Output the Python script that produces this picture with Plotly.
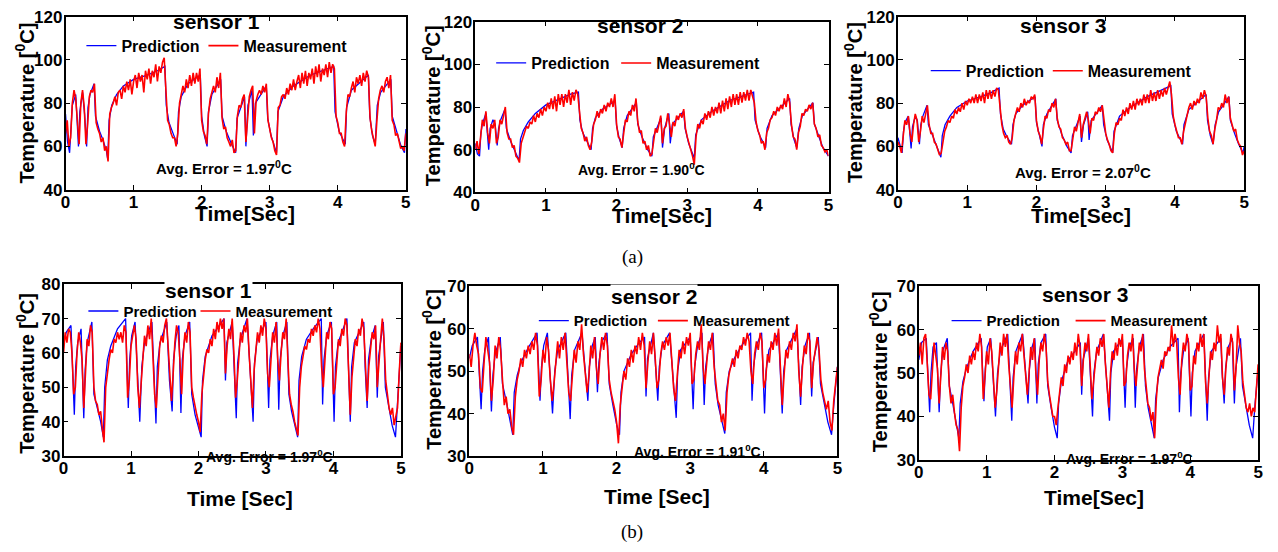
import plotly.graph_objects as go

# ---------------- data ----------------
# (a) row: prediction break-points (shared time stamps)
pred_t_a = [0, 0.03, 0.06, 0.08, 0.1, 0.15, 0.17, 0.19, 0.21, 0.25,
            0.28, 0.31, 0.33, 0.36, 0.42, 0.44, 0.5, 0.55, 0.6, 0.62,
            0.64, 0.68, 0.75, 0.85, 1.0, 1.2, 1.35, 1.46, 1.48, 1.52,
            1.58, 1.64, 1.66, 1.7, 1.8, 1.98, 2.0, 2.04, 2.08, 2.1,
            2.15, 2.28, 2.3, 2.36, 2.44, 2.5, 2.52, 2.63, 2.65, 2.68,
            2.74, 2.76, 2.79, 2.95, 2.97, 3.02, 3.1, 3.12, 3.2, 3.35,
            3.6, 3.94, 3.96, 4.02, 4.11, 4.13, 4.2, 4.45, 4.47, 4.51,
            4.55, 4.58, 4.63, 4.78, 4.8, 4.86, 4.92, 4.98, 5.0]
pred_a1 = [75, 62, 57, 72, 79, 84, 70, 60, 76, 85, 75, 60, 78, 84, 89, 74, 67, 63, 58, 54,
           72, 79, 84, 88, 91, 93, 95, 97, 79, 71, 66, 61, 76, 83, 89, 93, 74, 65, 60, 76,
           84, 91, 74, 67, 61, 57, 73, 83, 60, 79, 86, 65, 80, 88, 73, 65, 57, 76, 83, 88,
           93, 97, 76, 67, 61, 78, 86, 93, 74, 65, 61, 79, 85, 91, 74, 67, 61, 57, 68]
pred_a2 = [63, 58, 57, 68, 72, 77, 68, 60, 70, 74, 72, 62, 70, 74, 79, 70, 64, 60, 56, 55,
           65, 69, 73, 77, 81, 84, 86, 87, 74, 68, 64, 60, 70, 75, 79, 83, 71, 65, 61, 70,
           76, 82, 72, 66, 60, 57, 66, 75, 61, 70, 77, 63, 72, 78, 70, 63, 56, 67, 74, 78,
           83, 87, 74, 67, 61, 70, 76, 84, 72, 65, 61, 70, 76, 82, 72, 66, 61, 58, 57]
pred_a3 = [64, 60, 57, 67, 71, 74, 66, 59, 69, 74, 72, 61, 70, 74, 79, 70, 65, 61, 57, 55,
           65, 70, 74, 78, 81, 83, 85, 87, 75, 68, 64, 61, 70, 75, 79, 83, 71, 65, 60, 70,
           75, 82, 72, 66, 60, 57, 65, 74, 62, 70, 76, 63, 72, 79, 70, 63, 57, 67, 74, 78,
           83, 88, 75, 67, 61, 70, 77, 84, 72, 65, 61, 70, 76, 83, 72, 66, 61, 57, 60]

# (a) row: measurements, one sample every 0.025 s
meas_a1 = [66, 72, 60, 64, 80, 86, 82, 72, 61, 80, 86, 78, 61, 70, 83, 86, 85, 89, 71, 68,
           66, 62, 64, 58, 60, 53, 75, 78, 80, 83, 79, 85, 86, 82, 88, 85, 90, 86, 91, 84,
           90, 93, 87, 94, 90, 93, 85, 95, 91, 96, 89, 95, 92, 98, 90, 97, 94, 99, 101, 86,
           72, 70, 66, 64, 64, 60, 66, 80, 84, 88, 85, 91, 87, 93, 88, 94, 89, 94, 90, 96,
           72, 67, 65, 61, 75, 82, 85, 88, 85, 92, 87, 94, 73, 68, 69, 64, 62, 60, 63, 57,
           58, 74, 79, 78, 82, 84, 62, 75, 83, 86, 88, 66, 81, 84, 86, 84, 88, 85, 89, 72,
           68, 64, 62, 58, 56, 78, 79, 83, 84, 82, 87, 84, 89, 86, 91, 86, 90, 93, 87, 94,
           89, 95, 88, 94, 91, 96, 89, 97, 92, 98, 90, 96, 93, 98, 92, 99, 94, 98, 96, 74,
           71, 66, 66, 62, 60, 76, 84, 83, 87, 90, 85, 92, 89, 93, 88, 94, 90, 95, 92, 73,
           67, 63, 60, 72, 82, 86, 88, 85, 90, 92, 87, 93, 72, 70, 65, 66, 62, 59, 60, 58,
           66]
meas_a2 = [60, 64, 58, 66, 74, 71, 78, 68, 63, 72, 70, 74, 63, 66, 74, 72, 76, 80, 68, 65,
           65, 61, 62, 57, 56, 54, 63, 66, 68, 71, 70, 73, 72, 76, 73, 77, 75, 79, 76, 80,
           78, 82, 79, 84, 79, 85, 78, 86, 81, 86, 80, 86, 82, 88, 81, 87, 83, 88, 86, 76,
           70, 68, 64, 66, 62, 60, 64, 72, 74, 78, 75, 79, 77, 81, 78, 82, 80, 84, 80, 86,
           72, 66, 65, 61, 68, 74, 73, 78, 76, 81, 78, 84, 73, 68, 69, 63, 64, 60, 62, 57,
           58, 65, 70, 68, 73, 76, 63, 70, 71, 77, 72, 66, 73, 71, 76, 74, 77, 75, 79, 70,
           66, 63, 61, 57, 53, 66, 72, 70, 74, 72, 77, 74, 78, 75, 80, 76, 80, 77, 82, 77,
           83, 78, 84, 79, 85, 80, 86, 81, 86, 81, 87, 82, 87, 83, 88, 83, 88, 85, 82, 73,
           69, 67, 63, 64, 60, 68, 70, 74, 75, 78, 76, 80, 78, 81, 79, 84, 80, 86, 82, 72,
           66, 65, 60, 68, 71, 77, 76, 79, 78, 81, 79, 82, 72, 70, 66, 67, 62, 61, 59, 60,
           57]
meas_a3 = [62, 60, 57, 64, 72, 70, 74, 66, 62, 70, 75, 72, 62, 67, 74, 71, 76, 79, 70, 66,
           66, 62, 61, 58, 56, 57, 63, 67, 69, 72, 71, 74, 73, 77, 75, 78, 76, 80, 77, 81,
           79, 82, 80, 83, 80, 84, 80, 84, 81, 85, 80, 86, 82, 86, 82, 86, 83, 87, 86, 78,
           70, 66, 64, 65, 62, 61, 64, 72, 75, 78, 76, 80, 78, 82, 79, 81, 80, 83, 82, 84,
           72, 67, 65, 61, 68, 74, 73, 77, 76, 80, 78, 82, 73, 69, 68, 64, 63, 61, 62, 58,
           58, 64, 69, 67, 72, 75, 64, 70, 73, 76, 72, 66, 73, 72, 76, 75, 78, 76, 79, 71,
           66, 63, 61, 58, 57, 66, 71, 70, 73, 72, 77, 74, 78, 75, 80, 77, 81, 77, 82, 79,
           82, 79, 84, 80, 84, 80, 86, 81, 85, 81, 86, 82, 86, 83, 87, 84, 87, 90, 84, 74,
           70, 67, 64, 64, 61, 67, 71, 75, 78, 80, 77, 81, 79, 82, 80, 85, 82, 86, 83, 73,
           67, 65, 61, 68, 72, 78, 77, 80, 78, 84, 80, 83, 73, 70, 67, 68, 63, 61, 60, 56,
           58]

# (b) row: prediction break-points (shared time stamps)
pred_t_b = [0, 0.04, 0.11, 0.13, 0.16, 0.18, 0.21, 0.26, 0.28, 0.30,
            0.32, 0.35, 0.42, 0.45, 0.50, 0.55, 0.59, 0.61, 0.65, 0.70,
            0.80, 0.92, 0.94, 0.96, 0.98, 1.01, 1.06, 1.09, 1.13, 1.16,
            1.20, 1.31, 1.34, 1.37, 1.39, 1.43, 1.53, 1.57, 1.61, 1.63,
            1.67, 1.71, 1.725, 1.74, 1.76, 1.80, 1.87, 1.90, 1.95, 2.00,
            2.04, 2.06, 2.10, 2.20, 2.30, 2.38, 2.40, 2.42, 2.50, 2.53,
            2.56, 2.58, 2.62, 2.72, 2.76, 2.81, 2.83, 2.87, 3.00, 3.02,
            3.04, 3.06, 3.10, 3.16, 3.175, 3.19, 3.21, 3.25, 3.31, 3.34,
            3.38, 3.43, 3.47, 3.49, 3.53, 3.60, 3.70, 3.82, 3.83, 3.84,
            3.86, 3.90, 3.97, 3.99, 4.01, 4.03, 4.07, 4.20, 4.22, 4.25,
            4.27, 4.31, 4.45, 4.47, 4.50, 4.52, 4.56, 4.62, 4.635, 4.65,
            4.67, 4.74, 4.77, 4.82, 4.87, 4.92, 4.95, 5.00]
pred_b1 = [63, 66, 68, 55, 42, 56, 63, 67, 52, 41, 55, 63, 69, 48, 44, 40, 35.5, 50, 58, 62,
           67, 70, 56, 44, 58, 65, 69, 55, 40, 56, 63, 69, 52, 39.5, 56, 63, 69, 52, 43, 58,
           65, 68, 55, 42.5, 58, 65, 69, 48, 42, 38, 35.5, 52, 59, 65, 68, 70, 52, 63, 69, 55,
           41, 57, 64, 70, 55, 40, 57, 64, 69, 55, 44, 58, 65, 69, 56, 43.5, 58, 65, 69, 48,
           43, 38.5, 35.5, 52, 59, 64, 67, 70, 57, 45, 58, 65, 69, 55, 40, 56, 63, 70, 55, 40,
           56, 63, 69, 56, 44, 58, 64, 68, 58, 47, 59, 69, 50, 44, 39, 35.5, 45, 62]
pred_b2 = [53, 56, 58, 50, 41, 50, 55, 58, 49, 40.5, 49, 54, 58, 47, 43, 39, 35, 45, 49, 52,
           55.5, 59, 50, 43, 51, 56, 59, 50, 40, 50, 55, 59, 48, 38.7, 49, 55, 59, 50, 43, 51,
           56, 58, 51, 45, 52, 57, 59, 47, 42, 37.5, 35, 45, 50, 54, 56.5, 58, 44, 53, 59, 50,
           43, 51, 56, 59, 49, 39, 50, 55, 58, 49, 41, 51, 56, 59, 50, 42, 51, 56, 59, 47,
           42, 38, 35.3, 45, 50, 53, 56, 59, 51, 43, 51, 56, 59, 50, 40, 50, 55, 59, 50, 40,
           50, 55, 60, 51, 42, 51, 56, 59, 52, 44, 52, 58, 47, 42, 38, 35, 42, 51]
pred_b3 = [53, 57, 58, 50, 41, 50, 56, 57, 49, 41, 49, 55, 58, 47, 43, 39, 35, 43, 48, 51,
           55, 58, 50, 43.5, 51, 56, 58, 50, 40, 50, 55, 59, 48, 39, 49, 55, 59, 50, 43, 51,
           56, 58, 50, 43, 52, 57, 59, 47, 42, 37.5, 35, 43, 48, 53, 55, 57, 45, 53, 58, 49,
           40, 50, 55, 59, 49, 39, 50, 55, 58, 49, 42, 51, 56, 58, 50, 42, 51, 56, 59, 47,
           42, 38, 35, 44, 49, 53, 56, 58, 50, 41, 50, 55, 58, 49, 40, 50, 55, 59, 49, 39,
           49, 55, 58, 50, 43, 51, 56, 58, 50, 43, 51, 58, 47, 42, 38, 35, 42, 51]

# (b) row: measurements, one sample every 0.025 s
meas_b1 = [60, 66, 63, 67, 66, 60, 48, 50, 60, 66, 63, 58, 44, 55, 64, 62, 68, 66, 50, 46,
           45, 42, 43, 38, 34, 50, 55, 58, 61, 60, 64, 63, 66, 64, 66, 63, 68, 66, 47, 52,
           62, 65, 68, 64, 50, 44, 50, 58, 65, 62, 68, 64, 70, 58, 48, 44, 55, 62, 65, 63,
           68, 70, 62, 52, 46, 54, 63, 68, 66, 58, 48, 60, 66, 63, 69, 66, 50, 47, 44, 42,
           40, 37, 48, 54, 58, 61, 60, 64, 62, 67, 64, 69, 66, 70, 67, 70, 54, 62, 67, 64,
           70, 60, 47, 52, 60, 66, 63, 68, 66, 70, 60, 52, 44, 55, 62, 66, 63, 68, 65, 70,
           67, 54, 50, 60, 66, 63, 69, 58, 52, 60, 66, 64, 70, 58, 48, 45, 43, 40, 38, 36,
           50, 56, 59, 62, 61, 64, 63, 67, 65, 68, 66, 70, 67, 56, 50, 60, 66, 64, 69, 67,
           48, 50, 58, 64, 62, 67, 65, 70, 68, 54, 42, 53, 60, 64, 62, 67, 65, 70, 67, 55,
           46, 56, 62, 66, 64, 68, 50, 58, 64, 70, 64, 52, 48, 44, 42, 44, 39, 42, 44, 54,
           63]
meas_b2 = [54, 51, 56, 59, 56, 54, 46, 45, 52, 58, 55, 52, 43, 48, 56, 53, 58, 55, 48, 42,
           44, 40, 41, 37, 35, 44, 48, 50, 53, 51, 55, 53, 56, 54, 57, 55, 59, 56, 44, 48,
           55, 52, 58, 55, 48, 43, 47, 52, 57, 53, 58, 55, 59, 52, 45, 43, 49, 55, 52, 57,
           55, 61, 54, 50, 45, 49, 56, 53, 58, 51, 47, 54, 58, 55, 59, 56, 48, 45, 43, 41,
           38, 33, 42, 47, 50, 48, 53, 51, 55, 52, 56, 54, 58, 55, 59, 56, 46, 52, 57, 54,
           59, 53, 46, 48, 54, 57, 55, 58, 56, 59, 52, 46, 43, 50, 55, 53, 57, 54, 58, 56,
           59, 47, 48, 54, 57, 55, 61, 51, 47, 52, 57, 55, 59, 51, 46, 43, 42, 38, 40, 36,
           45, 49, 51, 53, 51, 55, 53, 56, 55, 58, 56, 59, 57, 50, 47, 54, 57, 55, 59, 57,
           46, 48, 54, 52, 57, 55, 59, 56, 60, 49, 42, 49, 55, 53, 57, 55, 59, 57, 61, 50,
           44, 51, 56, 54, 59, 57, 46, 52, 55, 58, 55, 48, 45, 43, 41, 43, 38, 36, 43, 47,
           51]
meas_b3 = [54, 57, 52, 58, 59, 53, 45, 44, 52, 57, 54, 51, 43, 49, 56, 53, 57, 55, 47, 43,
           45, 41, 38, 37, 32, 42, 47, 49, 52, 50, 54, 52, 55, 53, 57, 55, 59, 56, 44, 49,
           55, 52, 58, 55, 48, 42, 46, 52, 57, 54, 59, 56, 59, 52, 46, 42, 49, 55, 52, 57,
           55, 59, 54, 49, 45, 50, 56, 53, 58, 50, 45, 53, 57, 55, 59, 56, 48, 45, 42, 40,
           40, 38, 42, 46, 49, 47, 52, 50, 54, 52, 55, 53, 57, 54, 59, 56, 47, 53, 57, 55,
           59, 52, 44, 48, 53, 56, 54, 58, 56, 59, 52, 46, 42, 50, 55, 53, 57, 54, 58, 56,
           59, 47, 48, 54, 57, 55, 59, 51, 47, 52, 57, 55, 59, 51, 46, 43, 42, 39, 41, 35,
           44, 49, 51, 53, 51, 55, 54, 56, 55, 61, 56, 59, 57, 49, 45, 53, 57, 55, 59, 57,
           46, 47, 54, 52, 57, 55, 59, 56, 59, 48, 43, 48, 55, 53, 57, 55, 61, 57, 59, 49,
           45, 51, 56, 54, 59, 57, 46, 51, 61, 57, 55, 48, 45, 42, 41, 43, 40, 42, 41, 48,
           52]

sample_step = 0.025
x_ticks = [0, 1, 2, 3, 4, 5]
sensor_names = ["sensor 1", "sensor 2", "sensor 3", "sensor 1", "sensor 2", "sensor 3"]
avg_errors = ["1.97", "1.90", "2.07", "1.97", "1.91", "1.97"]
x_titles = ["Time[Sec]", "Time[Sec]", "Time[Sec]", "Time [Sec]", "Time [Sec]", "Time[Sec]"]

for arr in (meas_a1, meas_a2, meas_a3, meas_b1, meas_b2, meas_b3):
    assert len(arr) == 201, len(arr)
for arr in (pred_a1, pred_a2, pred_a3):
    assert len(arr) == len(pred_t_a)
for arr in (pred_b1, pred_b2, pred_b3):
    assert len(arr) == len(pred_t_b)

# ---------------- layout helpers ----------------
W, H = 1278, 552
FONT = "Liberation Sans"


def fx(p):
    return p / W


def fy(p):
    return 1 - p / H


# geometry of each panel (pixels)
panels = [
    dict(pt=pred_t_a, pv=pred_a1, mv=meas_a1, box=(61, 404, 8, 187), yr=(40, 120), dy=20,
         leg_p=(77, 38), leg_m=(200, 38), title=(213, 13, False), avg=(221, 164, 15),
         ytit=(20, 97), xtit=(242, 212), lfs=16),
    dict(pt=pred_t_a, pv=pred_a2, mv=meas_a2, box=(474, 830, 13, 190), yr=(40, 120), dy=20,
         leg_p=(490, 56), leg_m=(616, 56), title=(640, 17, False), avg=(642, 166, 14),
         ytit=(430, 100), xtit=(662, 214), lfs=16),
    dict(pt=pred_t_a, pv=pred_a3, mv=meas_a3, box=(900, 1249, 8, 187), yr=(40, 120), dy=20,
         leg_p=(928, 64), leg_m=(1051, 64), title=(1066, 17, False), avg=(1087, 168, 15),
         ytit=(855, 97), xtit=(1084, 214), lfs=16),
    dict(pt=pred_t_b, pv=pred_b1, mv=meas_b1, box=(59, 399, 285, 463), yr=(30, 80), dy=10,
         leg_p=(79, 313), leg_m=(192, 313), title=(205, 292, True), avg=(267, 463, 14),
         ytit=(20, 377), xtit=(237, 507), lfs=15),
    dict(pt=pred_t_b, pv=pred_b2, mv=meas_b2, box=(468, 839, 287, 463), yr=(30, 70), dy=10,
         leg_p=(533, 323), leg_m=(653, 323), title=(654, 298, True), avg=(698, 458, 14),
         ytit=(430, 373), xtit=(657, 505), lfs=15),
    dict(pt=pred_t_b, pv=pred_b3, mv=meas_b3, box=(921, 1263, 287, 467), yr=(30, 70), dy=10,
         leg_p=(949, 323), leg_m=(1074, 323), title=(1089, 296, True), avg=(1133, 465, 14),
         ytit=(880, 376), xtit=(1098, 506), lfs=15),
]

fig = go.Figure()
layout = dict(width=W, height=H, margin=dict(l=0, r=0, t=0, b=0),
              paper_bgcolor="white", plot_bgcolor="white", showlegend=True)
annotations = []

tickfont = dict(family=FONT, size=17, color="black", weight="bold")
axis_common = dict(showline=True, linecolor="black", linewidth=1.5, mirror="ticks",
                   ticks="inside", ticklen=5, tickwidth=1.2, tickcolor="black",
                   showgrid=False, zeroline=False, tickfont=tickfont)


def legend_key(n):
    return "legend" if n == 1 else f"legend{n}"


for k, p in enumerate(panels, start=1):
    sfx = "" if k == 1 else str(k)
    lp, lm = legend_key(2 * k - 1), legend_key(2 * k)
    x0, x1, yt, yb = p["box"]
    meas_t = [round(i * sample_step, 3) for i in range(len(p["mv"]))]

    fig.add_trace(go.Scatter(x=p["pt"], y=p["pv"], mode="lines", name="Prediction",
                             line=dict(color="#0000ff", width=1.3),
                             xaxis="x" + sfx, yaxis="y" + sfx, legend=lp))
    fig.add_trace(go.Scatter(x=meas_t, y=p["mv"], mode="lines", name="Measurement",
                             line=dict(color="#ff0000", width=1.6),
                             xaxis="x" + sfx, yaxis="y" + sfx, legend=lm))

    layout["xaxis" + sfx] = dict(axis_common, domain=[fx(x0), fx(x1)], range=[0, 5],
                                 tickvals=x_ticks, anchor="y" + sfx, ticklabelstandoff=-4)
    layout["yaxis" + sfx] = dict(axis_common, domain=[fy(yb), fy(yt)], range=list(p["yr"]),
                                 dtick=p["dy"], tick0=p["yr"][0], anchor="x" + sfx,
                                 ticklabelstandoff=-2)

    for key, (lx, ly) in ((lp, p["leg_p"]), (lm, p["leg_m"])):
        layout[key] = dict(x=fx(lx), y=fy(ly), xanchor="left", yanchor="middle",
                           orientation="h", bgcolor="rgba(0,0,0,0)", borderwidth=0,
                           font=dict(family=FONT, size=p["lfs"], color="black", weight="bold"),
                           itemwidth=30)

    tx, ty, tbg = p["title"]
    annotations.append(dict(x=fx(tx), y=fy(ty), xref="paper", yref="paper", showarrow=False,
                            text="<b>" + sensor_names[k - 1] + "</b>",
                            font=dict(family=FONT, size=21, color="black"),
                            bgcolor="white" if tbg else "rgba(0,0,0,0)", borderpad=0,
                            xanchor="center", yanchor="middle"))
    ax, ay, asz = p["avg"]
    annotations.append(dict(x=fx(ax), y=fy(ay), xref="paper", yref="paper", showarrow=False,
                            text="<b>Avg. Error = " + avg_errors[k - 1] + "<sup>0</sup>C</b>",
                            font=dict(family=FONT, size=asz, color="black"),
                            xanchor="center", yanchor="middle"))
    yx, yy = p["ytit"]
    annotations.append(dict(x=fx(yx), y=fy(yy), xref="paper", yref="paper", showarrow=False,
                            text="<b>Temperature [<sup>0</sup>C]</b>", textangle=-90,
                            font=dict(family=FONT, size=20, color="black"),
                            xanchor="center", yanchor="middle"))
    xx, xy = p["xtit"]
    annotations.append(dict(x=fx(xx), y=fy(xy), xref="paper", yref="paper", showarrow=False,
                            text="<b>" + x_titles[k - 1] + "</b>",
                            font=dict(family=FONT, size=21, color="black"),
                            xanchor="center", yanchor="middle"))

for lab, ypx in (("(a)", 257), ("(b)", 542)):
    annotations.append(dict(x=fx(632), y=fy(ypx), xref="paper", yref="paper", showarrow=False,
                            text=lab, font=dict(family="Liberation Serif", size=19, color="black"),
                            xanchor="center", yanchor="middle"))

layout["annotations"] = annotations
fig.update_layout(**layout)
fig.write_html("out.html")
